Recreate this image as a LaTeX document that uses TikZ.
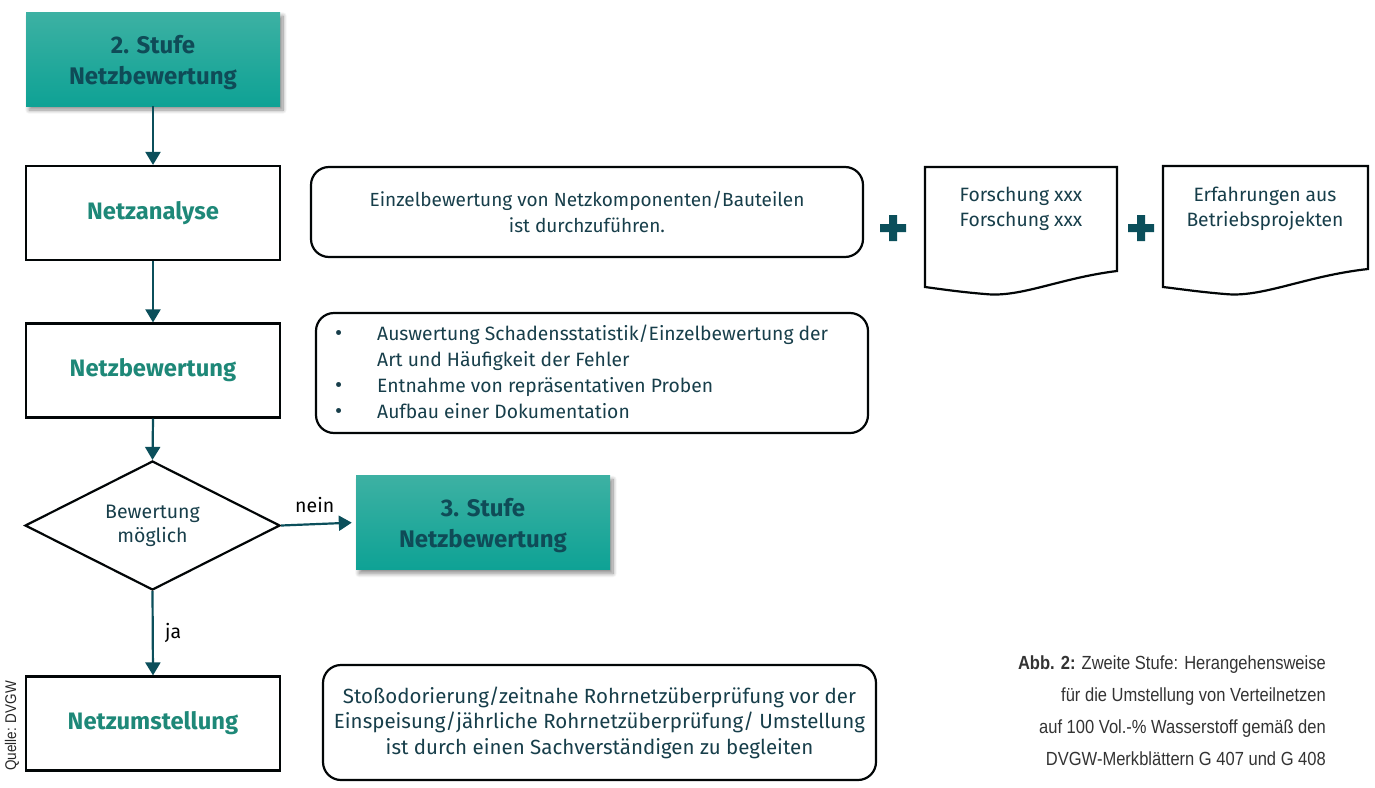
\documentclass[tikz,border=0pt]{standalone}
\usepackage{fontspec}
\setmainfont{Fira Sans}
\newfontfamily\capfont[FakeStretch=0.87]{Liberation Sans}
\usetikzlibrary{shapes.geometric,arrows.meta,shadows.blur}
\definecolor{tealtxt}{HTML}{1E8878}
\definecolor{darktxt}{HTML}{173E4A}
\definecolor{arrowc}{HTML}{0B4F5B}
\definecolor{gradtop}{HTML}{3DB1A3}
\definecolor{gradbot}{HTML}{0EA295}
\definecolor{stufetxt}{HTML}{0F4B57}
\newcommand{\bul}{\smash{\raisebox{0pt}{\fontsize{22}{22}\selectfont\textbullet}}}
\begin{document}
\begin{tikzpicture}[x=1pt,y=-1pt,
  stufebox/.style={rectangle, minimum width=254pt, minimum height=94pt, inner sep=0pt,
    top color=gradtop, bottom color=gradbot, draw=none,
    blur shadow={shadow blur steps=10, shadow xshift=3pt, shadow yshift=-4pt, shadow opacity=45, shadow blur radius=4pt}},
  stufetext/.style={inner sep=0pt, text=stufetxt, font=\bfseries\fontsize{24}{31}\selectfont, align=center},
  procbox/.style={rectangle, draw=black!90!darktxt, line width=2.2pt, fill=white,
    minimum width=254pt, minimum height=94pt, inner sep=0pt,
    text=tealtxt, font=\bfseries\fontsize{23.8}{28}\selectfont, align=center},
  notebox/.style={rectangle, rounded corners=18pt, draw=black!90!darktxt, line width=2.2pt,
    inner sep=0pt, text=darktxt, align=center},
  flowarrow/.style={draw=arrowc, line width=2.2pt, -{Triangle[length=13pt,width=15pt]}},
  doc/.style={draw=black!90!darktxt, line width=2.2pt, fill=white},
  plain/.style={text=darktxt, font=\fontsize{19.3}{25}\selectfont, align=center, inner sep=0pt},
  plus/.style={fill=arrowc},
]
\useasboundingbox (0,0) rectangle (1375,787);

% left column
\node[stufebox] (s2) at (153,59) {};
\node[stufetext] (s2t) at ([yshift=-3.5pt]s2.center) {2. Stufe\\Netzbewertung};
\node[procbox] (na) at (153,213) {Netzanalyse};
\node[procbox] (nb) at (153,370.5) {Netzbewertung};
\node[diamond, draw=black!90!darktxt, line width=2.2pt, aspect=1.98, inner sep=0pt,
  minimum width=255pt, minimum height=129pt, text=darktxt,
  font=\fontsize{19.5}{24}\selectfont, align=center] (bm) at (152.5,525.5) {Bewertung\\möglich};
\node[stufebox] (s3) at (483,522.5) {};
\node[stufetext] (s3t) at ([yshift=-3.5pt]s3.center) {3. Stufe\\Netzbewertung};
\node[procbox] (nu) at (153,723.5) {Netzumstellung};

\draw[flowarrow] (s2.south) -- (na.north);
\draw[flowarrow] (na.south) -- (nb.north);
\draw[flowarrow] (nb.south) -- (bm.north);
\draw[flowarrow, shorten >=4pt] (bm.east) -- (s3.west) node[pos=0.45, above=7pt, text=black, font=\fontsize{19.5}{22}\selectfont] (nein) {nein};
\draw[flowarrow] (bm.south) -- (nu.north) node[midway, right=8pt, text=black, font=\fontsize{19.5}{22}\selectfont] (ja) {ja};

\node[rotate=90, text=black!85, font=\capfont\fontsize{15.5}{18}\selectfont, inner sep=0pt] (quelle) at (12,726) {Quelle: DVGW};

% right notes
\node[notebox, minimum width=552pt, minimum height=90pt, font=\fontsize{19}{26.5}\selectfont] (n1) at (587,212)
  {Einzelbewertung von Netzkomponenten/Bauteilen\\ist durchzuführen.};

\fill[plus] (889,215) rectangle (897,241) (880,224) rectangle (906,232);

\draw[doc] (925,167) -- (1117,167) -- (1117,271)
  .. controls (1060,278) and (1020,298) .. (985,294)
  .. controls (960,292) and (940,289) .. (925,287) -- cycle;
\node[plain, anchor=north] (d1) at (1021,187) {Forschung xxx\\Forschung xxx};

\fill[plus] (1137,215) rectangle (1145,241) (1128,224) rectangle (1154,232);

\draw[doc] (1163,166) -- (1368,166) -- (1368,269)
  .. controls (1305,276) and (1262,298) .. (1225,294)
  .. controls (1200,292) and (1180,289) .. (1163,287) -- cycle;
\node[plain, anchor=north] (d2) at (1265,187) {Erfahrungen aus\\Betriebsprojekten};

\node[notebox, minimum width=552pt, minimum height=120pt] (n2) at (592,373) {};
\node[anchor=north west, inner sep=0pt, text=darktxt, font=\fontsize{19.3}{26}\selectfont] (n2t) at (335,322)
  {\begin{tabular}{@{}p{42pt}@{}l@{}}
   \bul & Auswertung Schadensstatistik/Einzelbewertung der\\
   & Art und Häufigkeit der Fehler\\
   \bul & Entnahme von repräsentativen Proben\\
   \bul & Aufbau einer Dokumentation
   \end{tabular}};

\node[notebox, minimum width=553pt, minimum height=115pt, font=\fontsize{20.5}{25.5}\selectfont] (n3) at (599.5,722.5)
  {Stoßodorierung/zeitnahe Rohrnetzüberprüfung vor der\\Einspeisung/jährliche Rohrnetzüberprüfung/ Umstellung\\ist durch einen Sachverständigen zu begleiten};

% caption
\node[anchor=north east, align=right, inner sep=0pt, text=black!80, font=\capfont\fontsize{19}{32}\selectfont] (cap) at (1326,656)
  {{\bfseries Abb. 2:} Zweite Stufe: Herangehensweise\\für die Umstellung von Verteilnetzen\\auf 100 Vol.-\% Wasserstoff gemäß den\\DVGW-Merkblättern G 407 und G 408};
\end{tikzpicture}
\end{document}
